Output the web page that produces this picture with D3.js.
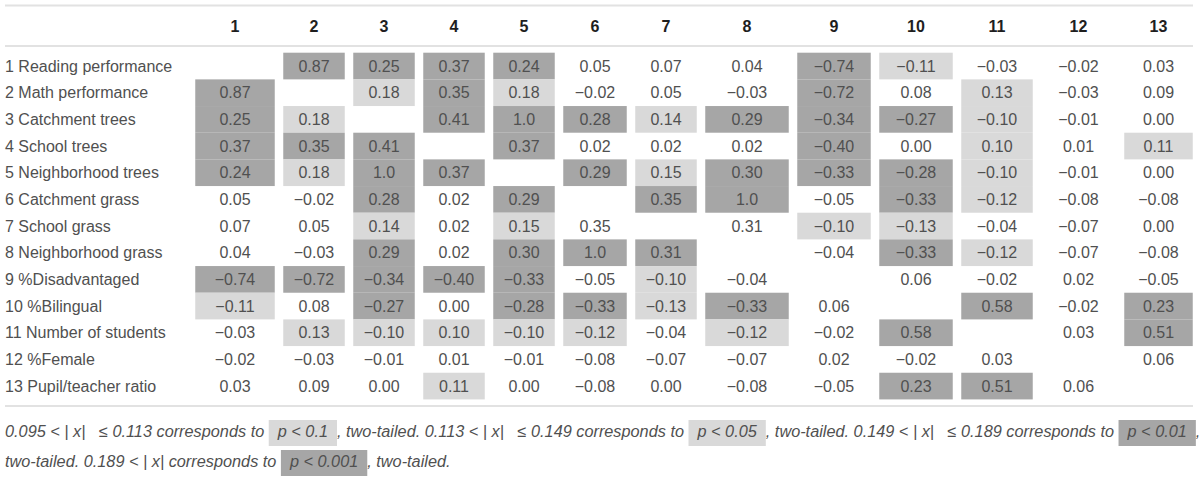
<!DOCTYPE html>
<html><head><meta charset="utf-8">
<script src="https://cdn.jsdelivr.net/npm/d3@7"></script>
<style>
html,body{margin:0;padding:0;background:#fff;}
svg{display:block;font-family:"Liberation Sans",Arial,Helvetica,sans-serif;}
.foot{white-space:pre;}
</style></head><body>
<svg id="chart" width="1200" height="483"></svg>
<script>
// ---------------- DATA ----------------
const headers = ["1","2","3","4","5","6","7","8","9","10","11","12","13"];
const rowLabels = [
  "1 Reading performance","2 Math performance","3 Catchment trees","4 School trees",
  "5 Neighborhood trees","6 Catchment grass","7 School grass","8 Neighborhood grass",
  "9 %Disadvantaged","10 %Bilingual","11 Number of students","12 %Female","13 Pupil/teacher ratio"
];
const values = [
  [null, 0.87, 0.25, 0.37, 0.24, 0.05, 0.07, 0.04, -0.74, -0.11, -0.03, -0.02, 0.03],
  [0.87, null, 0.18, 0.35, 0.18, -0.02, 0.05, -0.03, -0.72, 0.08, 0.13, -0.03, 0.09],
  [0.25, 0.18, null, 0.41, 1.0, 0.28, 0.14, 0.29, -0.34, -0.27, -0.10, -0.01, 0.00],
  [0.37, 0.35, 0.41, null, 0.37, 0.02, 0.02, 0.02, -0.40, 0.00, 0.10, 0.01, 0.11],
  [0.24, 0.18, 1.0, 0.37, null, 0.29, 0.15, 0.30, -0.33, -0.28, -0.10, -0.01, 0.00],
  [0.05, -0.02, 0.28, 0.02, 0.29, null, 0.35, 1.0, -0.05, -0.33, -0.12, -0.08, -0.08],
  [0.07, 0.05, 0.14, 0.02, 0.15, 0.35, null, 0.31, -0.10, -0.13, -0.04, -0.07, 0.00],
  [0.04, -0.03, 0.29, 0.02, 0.30, 1.0, 0.31, null, -0.04, -0.33, -0.12, -0.07, -0.08],
  [-0.74, -0.72, -0.34, -0.40, -0.33, -0.05, -0.10, -0.04, null, 0.06, -0.02, 0.02, -0.05],
  [-0.11, 0.08, -0.27, 0.00, -0.28, -0.33, -0.13, -0.33, 0.06, null, 0.58, -0.02, 0.23],
  [-0.03, 0.13, -0.10, 0.10, -0.10, -0.12, -0.04, -0.12, -0.02, 0.58, null, 0.03, 0.51],
  [-0.02, -0.03, -0.01, 0.01, -0.01, -0.08, -0.07, -0.07, 0.02, -0.02, 0.03, null, 0.06],
  [0.03, 0.09, 0.00, 0.11, 0.00, -0.08, 0.00, -0.08, -0.05, 0.23, 0.51, 0.06, null]
];
// 0 = no shading, 1 = light, 2 = dark (as marked in the table)
const shades = [
  [0,2,2,2,2,0,0,0,2,1,0,0,0],
  [2,0,1,2,1,0,0,0,2,0,1,0,0],
  [2,1,0,2,2,2,1,2,2,2,1,0,0],
  [2,2,2,0,2,0,0,0,2,0,1,0,1],
  [2,1,2,2,0,2,1,2,2,2,1,0,0],
  [0,0,2,0,2,0,2,2,0,2,1,0,0],
  [0,0,1,0,1,0,0,0,1,1,0,0,0],
  [0,0,2,0,2,2,2,0,0,2,1,0,0],
  [2,2,2,2,2,0,1,0,0,0,0,0,0],
  [1,0,2,0,2,2,1,2,0,0,2,0,2],
  [0,1,1,1,1,1,0,1,0,2,0,0,2],
  [0,0,0,0,0,0,0,0,0,0,0,0,0],
  [0,0,0,1,0,0,0,0,0,2,2,0,0]
];
const footLine1 = [
  ["0.095 < | x|   \u2264 0.113 corresponds to ", 0],
  ["p < 0.1", 1],
  [", two-tailed. 0.113 < | x|   \u2264 0.149 corresponds to ", 0],
  ["p < 0.05", 1],
  [", two-tailed. 0.149 < | x|   \u2264 0.189 corresponds to ", 0],
  ["p < 0.01", 2],
  [",", 0]
];
const footLine2 = [
  ["two-tailed. 0.189 < | x| corresponds to ", 0],
  ["p < 0.001", 2],
  [", two-tailed.", 0]
];

// ---------------- LAYOUT ----------------
const shadeColor = {1: "#d9d9d9", 2: "#a6a6a6"};
const textColor = "#505050";
const lineColor = "#e2e2e2";
const colWidths = [88, 70, 70, 70, 70, 72, 70, 92, 82, 82, 80, 83, 77]; // relative column widths
const tableLeft = 191, lineLeft = 5, lineRight = 1193;
const bodyTop = 52.7, rowH = 26.67;
const cellPad = 4.25;
const fs = 16, footFs = 16.3;

const svg = d3.select("#chart");

const starts = Array.from(d3.cumsum([0, ...colWidths.slice(0, -1)]), d => tableLeft + d);
const x = d3.scaleOrdinal().domain(headers).range(starts);
const w = d3.scaleOrdinal().domain(headers).range(colWidths);
const y = d3.scaleBand().domain(rowLabels).range([bodyTop, bodyTop + rowH * rowLabels.length]);

const fmt = v => v === 1 ? "1.0" : d3.format(".2f")(v);

// rules
[5.5, 46, 406].forEach(yy => {
  svg.append("line").attr("x1", lineLeft).attr("x2", lineRight)
    .attr("y1", yy).attr("y2", yy).attr("stroke", lineColor).attr("stroke-width", 2);
});

// header
svg.append("g").selectAll("text").data(headers).join("text")
  .attr("x", d => x(d) + w(d) / 2).attr("y", 32)
  .attr("text-anchor", "middle").attr("font-weight", "bold")
  .attr("font-size", fs).attr("fill", "#1e1e1e").text(d => d);

// row labels
svg.append("g").selectAll("text").data(rowLabels).join("text")
  .attr("x", lineLeft).attr("y", d => y(d) + y.bandwidth() / 2 + 5.6)
  .attr("font-size", fs).attr("fill", textColor).text(d => d);

// cells
const cells = [];
values.forEach((row, i) => row.forEach((v, j) => {
  if (v !== null) cells.push({r: rowLabels[i], c: headers[j], v, s: shades[i][j]});
}));

svg.append("g").selectAll("rect").data(cells.filter(d => d.s > 0)).join("rect")
  .attr("x", d => x(d.c) + cellPad).attr("width", d => w(d.c) - 2 * cellPad)
  .attr("y", d => y(d.r)).attr("height", y.bandwidth())
  .attr("fill", d => shadeColor[d.s]);

svg.append("g").selectAll("text").data(cells).join("text")
  .attr("x", d => x(d.c) + w(d.c) / 2).attr("y", d => y(d.r) + y.bandwidth() / 2 + 5.6)
  .attr("text-anchor", "middle").attr("font-size", fs).attr("fill", textColor)
  .text(d => fmt(d.v));

// footnote
function footLine(segs, baseline) {
  const g = svg.append("g");
  let cx = lineLeft;
  const boxPad = 9;
  segs.forEach(([t, s]) => {
    if (s > 0) {
      const r = g.append("rect").attr("fill", shadeColor[s]);
      const tx = g.append("text").attr("class", "foot").attr("x", cx + boxPad).attr("y", baseline)
        .attr("font-size", footFs).attr("font-style", "italic").attr("fill", textColor).text(t);
      const len = tx.node().getComputedTextLength();
      r.attr("x", cx).attr("y", baseline - 17).attr("width", len + 2 * boxPad).attr("height", 26);
      cx += len + 2 * boxPad;
    } else {
      const tx = g.append("text").attr("class", "foot").attr("x", cx).attr("y", baseline)
        .attr("font-size", footFs).attr("font-style", "italic").attr("fill", textColor).text(t);
      cx += tx.node().getComputedTextLength();
    }
  });
}
footLine(footLine1, 437);
footLine(footLine2, 467);
</script>
</body></html>
